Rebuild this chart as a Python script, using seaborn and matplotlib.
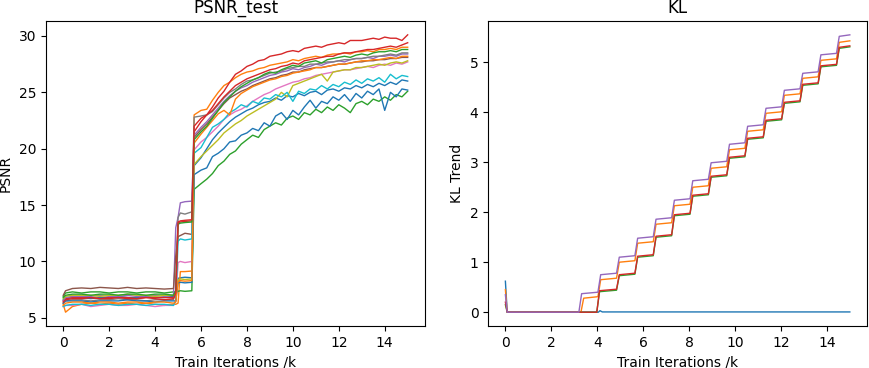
import numpy as np
import pandas as pd
import matplotlib
matplotlib.use("Agg")
import matplotlib.pyplot as plt
import seaborn as sns

# ---------------- PSNR_test data ----------------
X_EARLY = [0.0, 0.1, 0.4, 0.8, 1.2, 1.6, 2.0, 2.4, 2.8, 3.2, 3.6, 4.0, 4.4, 4.8]
X_JUMP = [4.9, 5.0, 5.1, 5.3, 5.6]
X_POST = [5.7, 6.0, 6.25, 6.5, 6.75, 7.0, 7.25, 7.5, 7.75, 8.0, 8.25, 8.5, 8.75,
          9.0, 9.25, 9.5, 9.75, 10.0, 10.25, 10.5, 10.75, 11.0, 11.25, 11.5, 11.75,
          12.0, 12.25, 12.5, 12.75, 13.0, 13.25, 13.5, 13.75, 14.0, 14.25, 14.5,
          14.75, 15.0]

run_names = ["run0", "run1", "run2", "run3", "run4", "run5", "run6",
             "run7", "run8", "run9", "run10", "run11", "run12", "run13"]

blue_a_early = [6.6, 6.7, 6.8, 6.8, 6.7, 6.8, 6.8, 6.9, 6.8, 6.8, 6.9, 6.8, 6.8, 6.9]
blue_a_jump = [6.8, 8.5, 8.55, 8.6, 8.55]
blue_a_post = [18.5, 19.2, 20.0, 20.8, 21.4, 21.9, 22.4, 22.8, 23.1, 23.4, 23.6, 23.9,
               24.1, 24.2, 24.5, 24.3, 24.7, 24.6, 24.9, 24.7, 25.0, 25.1, 24.8, 25.2,
               25.3, 25.1, 25.4, 25.3, 25.6, 25.4, 25.7, 25.5, 25.8, 25.6, 25.9, 25.7,
               26.1, 26.0]

orange_a_early = [6.2, 5.5, 6.0, 6.2, 6.3, 6.2, 6.3, 6.2, 6.3, 6.2, 6.3, 6.2, 6.1, 6.2]
orange_a_jump = [6.2, 6.3, 9.1, 9.1, 9.15]
orange_a_post = [23.0, 23.4, 23.5, 24.3, 25.0, 25.6, 25.9, 26.3, 26.6, 26.8, 26.9, 27.1,
                 27.2, 27.4, 27.5, 27.6, 27.7, 27.9, 27.8, 28.0, 28.1, 28.2, 28.1, 28.3,
                 28.4, 28.4, 28.5, 28.4, 28.6, 28.6, 28.7, 28.6, 28.8, 28.8, 28.9, 28.8,
                 29.0, 29.0]

green_a_early = [6.9, 7.2, 7.3, 7.2, 7.3, 7.3, 7.2, 7.3, 7.3, 7.2, 7.3, 7.3, 7.2, 7.3]
green_a_jump = [7.3, 7.35, 7.4, 7.35, 7.4]
green_a_post = [16.4, 16.9, 17.3, 17.8, 18.5, 18.9, 19.5, 19.8, 20.4, 20.8, 21.2, 21.0,
                21.7, 22.0, 22.3, 22.1, 22.7, 22.9, 22.6, 23.2, 23.0, 23.5, 23.2, 23.7,
                23.4, 23.9, 23.6, 23.2, 24.0, 24.2, 23.9, 24.4, 24.2, 24.6, 24.3, 24.8,
                24.6, 25.1]

red_a_early = [6.5, 6.7, 6.8, 6.8, 6.8, 6.7, 6.8, 6.8, 6.8, 6.7, 6.8, 6.8, 6.8, 6.8]
red_a_jump = [7.0, 13.4, 13.5, 13.55, 13.6]
red_a_post = [21.5, 22.4, 23.0, 23.7, 24.5, 25.1, 25.9, 26.6, 26.9, 27.3, 27.5, 27.8,
              27.9, 28.2, 28.3, 28.4, 28.6, 28.7, 28.6, 28.9, 29.0, 29.1, 29.0, 29.2,
              29.3, 29.4, 29.3, 29.6, 29.6, 29.6, 29.7, 29.8, 29.7, 29.9, 29.8, 29.8,
              29.6, 30.1]

purple_early = [6.5, 6.8, 6.9, 6.9, 6.9, 7.0, 6.9, 6.9, 7.0, 6.9, 6.9, 7.0, 6.9, 7.0]
purple_jump = [13.0, 13.9, 15.2, 15.3, 15.35]
purple_post = [21.2, 21.9, 22.4, 23.0, 23.6, 24.2, 24.7, 25.1, 25.4, 25.6, 25.9, 26.1,
               26.3, 26.5, 26.6, 26.8, 26.9, 27.1, 27.0, 27.2, 27.3, 27.5, 27.4, 27.6,
               27.7, 27.8, 27.7, 27.9, 28.0, 28.0, 28.1, 28.0, 28.2, 28.2, 28.3, 28.2,
               28.4, 28.4]

brown_early = [7.0, 7.4, 7.6, 7.65, 7.6, 7.7, 7.65, 7.6, 7.7, 7.6, 7.65, 7.6, 7.55, 7.6]
brown_jump = [10.5, 12.2, 12.3, 12.5, 12.4]
brown_post = [21.0, 21.7, 22.2, 22.8, 23.4, 24.0, 24.5, 24.8, 25.1, 25.3, 25.6, 25.8,
              26.0, 26.2, 26.3, 26.5, 26.6, 26.8, 26.8, 27.0, 27.1, 27.2, 27.2, 27.3,
              27.4, 27.5, 27.5, 27.6, 27.7, 27.7, 27.8, 27.8, 27.9, 27.9, 28.0, 28.0,
              28.1, 28.1]

pink_early = [6.0, 6.1, 6.1, 6.2, 6.0, 6.1, 6.2, 6.1, 6.1, 6.2, 6.1, 6.0, 6.1, 6.1]
pink_jump = [6.5, 9.9, 10.0, 9.9, 10.0]
pink_post = [19.9, 20.6, 21.0, 21.5, 22.0, 22.6, 23.0, 23.3, 23.5, 23.8, 24.2, 24.5,
             24.8, 25.0, 25.3, 25.5, 25.7, 25.9, 26.0, 26.2, 26.3, 26.5, 26.6, 26.7,
             26.8, 26.9, 27.0, 27.0, 27.1, 27.2, 27.3, 27.2, 27.4, 27.5, 27.4, 27.6,
             27.5, 27.7]

gray_early = [6.3, 6.5, 6.6, 6.6, 6.5, 6.6, 6.6, 6.7, 6.6, 6.6, 6.5, 6.6, 6.6, 6.6]
gray_jump = [7.5, 13.9, 14.3, 14.2, 14.4]
gray_post = [22.8, 22.9, 23.0, 23.3, 23.9, 24.5, 25.0, 25.3, 25.7, 26.0, 26.1, 26.3,
             26.5, 26.7, 26.8, 26.9, 27.1, 27.2, 27.3, 27.3, 27.5, 27.5, 27.6, 27.7,
             27.7, 27.8, 27.9, 27.9, 28.0, 28.0, 28.1, 28.2, 28.2, 28.3, 28.4, 28.3,
             28.5, 28.5]

olive_early = [6.7, 6.9, 7.0, 7.0, 7.0, 6.9, 7.0, 7.0, 7.1, 7.0, 7.0, 6.9, 7.0, 7.0]
olive_jump = [7.0, 8.4, 8.45, 8.4, 8.45]
olive_post = [18.6, 19.3, 19.8, 20.3, 20.8, 21.4, 21.8, 22.2, 22.5, 22.9, 23.2, 23.5,
              23.8, 24.1, 24.4, 25.0, 24.6, 25.6, 25.8, 26.0, 26.2, 26.4, 26.6, 26.0,
              26.8, 26.9, 27.0, 27.0, 27.2, 27.2, 27.3, 27.4, 27.5, 27.4, 27.6, 27.7,
              27.6, 27.8]

cyan_early = [6.0, 6.1, 6.2, 6.2, 6.1, 6.2, 6.2, 6.1, 6.2, 6.2, 6.1, 6.2, 6.2, 6.1]
cyan_jump = [6.5, 11.8, 12.0, 11.9, 12.0]
cyan_post = [19.6, 20.1, 21.0, 21.9, 22.2, 22.6, 23.2, 23.5, 23.9, 23.7, 24.2, 24.0,
             24.5, 24.4, 24.8, 24.6, 25.0, 24.2, 25.1, 24.9, 25.3, 25.2, 25.6, 25.3,
             25.7, 25.5, 25.9, 25.7, 26.1, 25.8, 26.2, 26.0, 26.3, 25.9, 26.6, 26.2,
             26.5, 26.4]

blue_b_early = [6.3, 6.5, 6.5, 6.5, 6.4, 6.5, 6.5, 6.5, 6.6, 6.5, 6.5, 6.4, 6.5, 6.5]
blue_b_jump = [6.5, 8.1, 8.15, 8.1, 8.15]
blue_b_post = [17.7, 18.1, 18.3, 19.3, 19.6, 20.0, 20.6, 20.7, 21.2, 21.4, 21.8, 21.6,
               22.3, 22.0, 22.9, 23.2, 22.6, 23.4, 23.0, 23.7, 24.3, 23.6, 24.2, 24.0,
               24.6, 24.3, 24.8, 24.2, 24.9, 24.5, 25.1, 24.8, 25.3, 23.4, 25.0, 24.6,
               25.3, 25.2]

orange_b_early = [6.1, 6.3, 6.4, 6.4, 6.3, 6.4, 6.4, 6.3, 6.4, 6.4, 6.3, 6.4, 6.4, 6.3]
orange_b_jump = [6.4, 8.25, 8.3, 8.25, 8.3]
orange_b_post = [20.5, 21.3, 21.9, 22.5, 23.1, 23.4, 23.0, 24.4, 24.9, 25.2, 25.5, 25.7,
                 25.9, 26.1, 26.2, 26.4, 26.5, 26.7, 26.8, 26.9, 27.0, 27.2, 27.2, 27.3,
                 27.4, 27.5, 27.5, 27.6, 27.7, 27.8, 27.8, 27.9, 27.9, 28.0, 28.1, 28.0,
                 28.2, 28.2]

green_b_early = [6.8, 7.0, 7.1, 7.1, 7.0, 7.1, 7.1, 7.0, 7.1, 7.1, 7.0, 7.1, 7.1, 7.0]
green_b_jump = [7.4, 13.3, 13.4, 13.45, 13.5]
green_b_post = [20.8, 21.5, 22.0, 22.7, 23.4, 24.1, 24.6, 25.1, 25.5, 25.8, 26.1, 26.3,
                26.6, 26.8, 26.7, 27.0, 27.2, 27.4, 27.3, 27.6, 27.7, 27.8, 27.6, 27.9,
                28.0, 28.1, 28.2, 28.1, 28.3, 28.4, 28.3, 28.5, 28.6, 28.6, 28.7, 28.6,
                28.8, 28.8]

red_b_early = [6.4, 6.6, 6.7, 6.7, 6.8, 6.7, 6.7, 6.8, 6.7, 6.7, 6.8, 6.7, 6.6, 6.7]
red_b_jump = [7.2, 13.5, 13.6, 13.65, 13.7]
red_b_post = [22.0, 22.7, 23.0, 23.4, 24.0, 24.6, 25.1, 25.6, 25.9, 26.2, 26.4, 26.6,
              26.8, 27.0, 27.1, 27.3, 27.4, 27.6, 27.5, 27.8, 27.9, 28.0, 28.1, 28.2,
              28.2, 28.4, 28.5, 28.5, 28.6, 28.7, 28.8, 28.8, 28.9, 29.0, 29.1, 29.0,
              29.2, 29.4]

psnr_series = [
    (blue_a_early, blue_a_jump, blue_a_post),
    (orange_a_early, orange_a_jump, orange_a_post),
    (green_a_early, green_a_jump, green_a_post),
    (red_a_early, red_a_jump, red_a_post),
    (purple_early, purple_jump, purple_post),
    (brown_early, brown_jump, brown_post),
    (pink_early, pink_jump, pink_post),
    (gray_early, gray_jump, gray_post),
    (olive_early, olive_jump, olive_post),
    (cyan_early, cyan_jump, cyan_post),
    (blue_b_early, blue_b_jump, blue_b_post),
    (orange_b_early, orange_b_jump, orange_b_post),
    (green_b_early, green_b_jump, green_b_post),
    (red_b_early, red_b_jump, red_b_post),
]

# ---------------- KL data ----------------
kl_names = ["kl0", "kl1", "kl2", "kl3", "kl4"]
kl_start = [0.62, 0.45, 0.15, 0.2, 0.35]
kl_rise_purple = [3.2, 4.03, 4.84, 5.64, 6.44, 7.24, 8.04, 8.84, 9.64, 10.43,
                  11.23, 12.03, 12.83, 13.62, 14.42]
kl_rise_orange = [3.29, 4.03, 4.84, 5.64, 6.44, 7.24, 8.04, 8.84, 9.64, 10.43,
                  11.23, 12.03, 12.83, 13.62, 14.42]
kl_rise_red = [3.98, 4.84, 5.64, 6.44, 7.24, 8.04, 8.84, 9.64, 10.43,
               11.23, 12.03, 12.83, 13.62, 14.42]
kl_purple = [0.40, 0.78, 1.13, 1.51, 1.89, 2.27, 2.66, 3.02, 3.39, 3.75, 4.11,
             4.47, 4.81, 5.18, 5.55]
kl_orange = [0.31, 0.68, 1.03, 1.41, 1.79, 2.16, 2.53, 2.91, 3.28, 3.65, 4.01,
             4.37, 4.71, 5.07, 5.43]
kl_red = [0.46, 0.78, 1.15, 1.55, 1.98, 2.37, 2.75, 3.13, 3.51, 3.87, 4.23,
          4.59, 4.96, 5.33]
kl_green = [0.44, 0.76, 1.13, 1.53, 1.96, 2.35, 2.73, 3.11, 3.49, 3.85, 4.21,
            4.57, 4.94, 5.31]
kl_blue_x = [0.0, 0.08, 4.05, 4.12, 4.22, 15.0]
kl_blue_y = [0.62, 0.0, 0.0, 0.03, 0.005, 0.005]

# ---------------- build tables ----------------
rows = []
x_all = X_EARLY + X_JUMP + X_POST
for name, (e, j, p) in zip(run_names, psnr_series):
    for xv, yv in zip(x_all, e + j + p):
        rows.append((name, xv, yv))
psnr_df = pd.DataFrame(rows, columns=["run", "iter", "psnr"])


def staircase(start, rises, levels, d=0.03):
    xs = [0.0, 0.08]
    ys = [start, 0.0]
    prev = 0.0
    for t, lv in zip(rises, levels):
        xs += [t, t + 0.12]
        ys += [prev, lv - d]
        prev = lv
    xs.append(15.0)
    ys.append(prev)
    return xs, ys


kl_rows = []
for xv, yv in zip(kl_blue_x, kl_blue_y):
    kl_rows.append(("kl0", xv, yv))
for name, st, rises, lv in [("kl1", kl_start[1], kl_rise_orange, kl_orange),
                            ("kl2", kl_start[2], kl_rise_red, kl_green),
                            ("kl3", kl_start[3], kl_rise_red, kl_red),
                            ("kl4", kl_start[4], kl_rise_purple, kl_purple)]:
    xs, ys = staircase(st, rises, lv)
    for xv, yv in zip(xs, ys):
        kl_rows.append((name, xv, yv))
kl_df = pd.DataFrame(kl_rows, columns=["run", "iter", "kl"])

# ---------------- plot ----------------
tab10 = sns.color_palette("tab10", 10)
psnr_pal = {n: tab10[i % 10] for i, n in enumerate(run_names)}
kl_pal = {n: tab10[i] for i, n in enumerate(kl_names)}

fig, (ax1, ax2) = plt.subplots(1, 2, figsize=(8.7, 3.68), dpi=100)
fig.subplots_adjust(left=0.0529, right=0.9966, bottom=0.114, top=0.943, wspace=0.167)

sns.lineplot(data=psnr_df, x="iter", y="psnr", hue="run", hue_order=run_names,
             palette=psnr_pal, estimator=None, sort=False, legend=False,
             linewidth=1.0, ax=ax1)
ax1.set_title("PSNR_test", fontsize=12)
ax1.set_xlabel("Train Iterations /k")
ax1.set_ylabel("PSNR")
ax1.set_xticks([0, 2, 4, 6, 8, 10, 12, 14])
ax1.set_yticks([5, 10, 15, 20, 25, 30])

sns.lineplot(data=kl_df, x="iter", y="kl", hue="run", hue_order=kl_names,
             palette=kl_pal, estimator=None, sort=False, legend=False,
             linewidth=1.0, ax=ax2)
ax2.set_title("KL", fontsize=12)
ax2.set_xlabel("Train Iterations /k")
ax2.set_ylabel("KL Trend")
ax2.set_xticks([0, 2, 4, 6, 8, 10, 12, 14])
ax2.set_yticks([0, 1, 2, 3, 4, 5])

fig.savefig("out.png", dpi=100)
